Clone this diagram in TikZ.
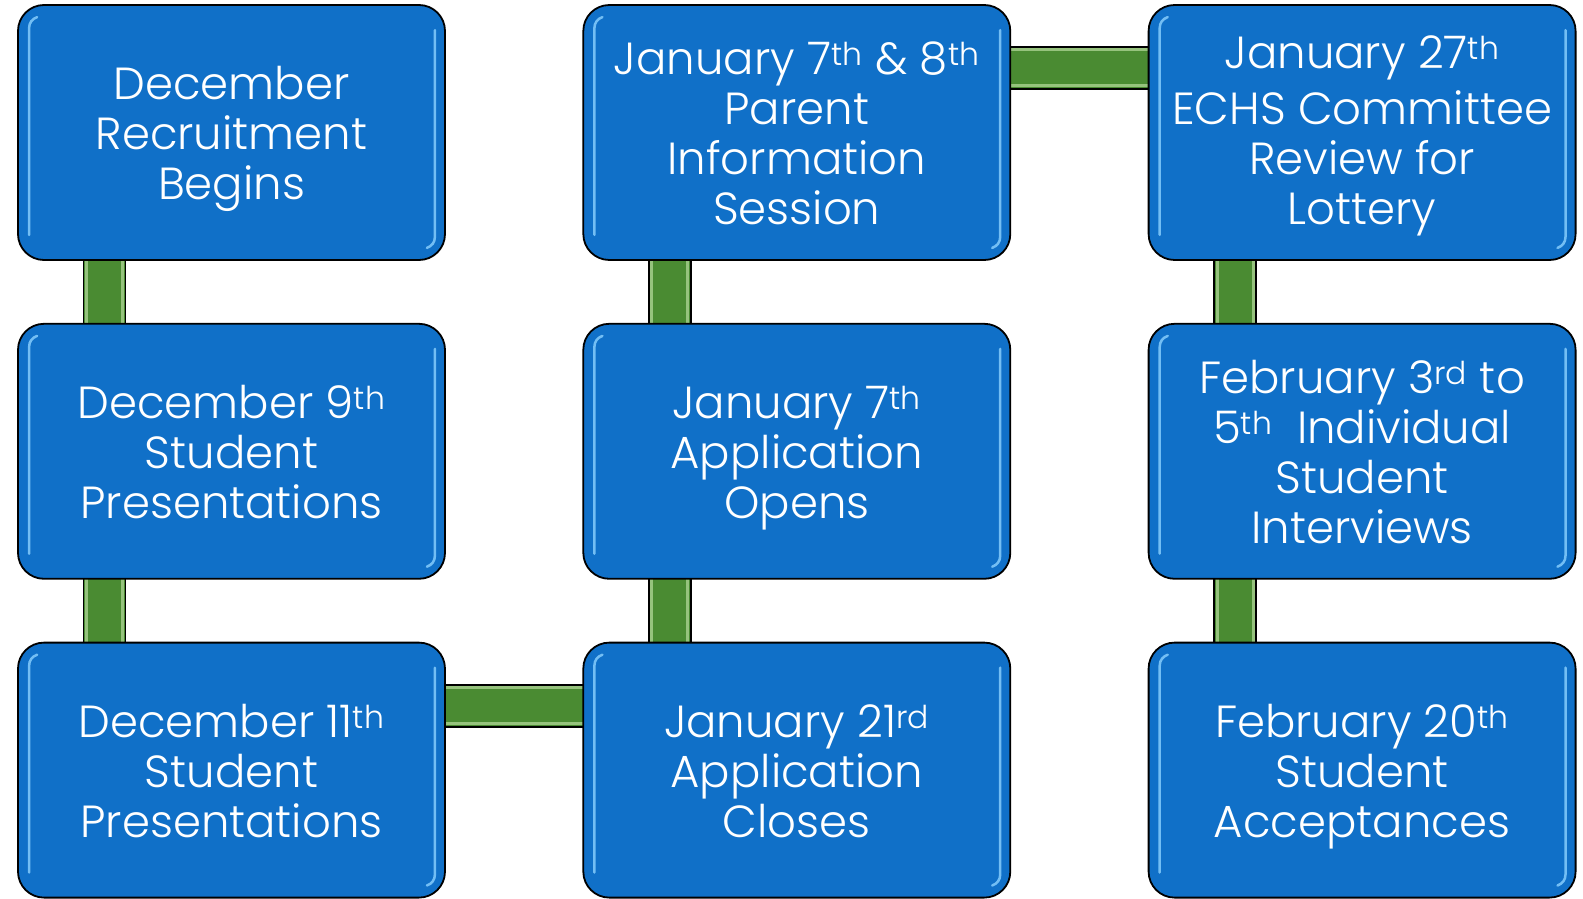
\documentclass[tikz,border=0pt]{standalone}
\usepackage{fontspec}
\setmainfont{Poppins Light}
\usetikzlibrary{positioning, backgrounds}
\definecolor{boxblue}{RGB}{16,112,200}
\definecolor{bargreen}{RGB}{74,139,50}
\definecolor{barlight}{RGB}{150,195,125}
\definecolor{glint}{RGB}{140,210,255}
\newcommand{\topline}{\rule{0pt}{46pt}}

\begin{document}
\begin{tikzpicture}[x=1pt,y=1pt,node distance=62pt and 136.5pt]
  \tikzstyle{event}=[draw=black,line width=1.8pt,fill=boxblue,rounded corners=26pt,
    minimum width=427pt,minimum height=255pt,inner sep=0pt,align=center,
    text=white,font=\fontsize{45}{50}\selectfont,
    execute at end node={\rule[-12pt]{0pt}{12pt}}]
  \tikzstyle{bar}=[draw=black,line width=1.8pt,fill=bargreen]
  \tikzstyle{barshine}=[barlight,line width=3pt]
  \tikzstyle{hilite}=[glint,line width=2.5pt,line cap=round,opacity=0.8]

  \useasboundingbox (0,0) rectangle (1583,-899);

  \node[event]       (rec)      at (231.5,-132.5)  {\topline December\\Recruitment\\Begins};
  \node[event]       (pres9)    [below=of rec]     {\topline December 9\textsuperscript{th}\\Student\\Presentations};
  \node[event]       (pres11)   [below=of pres9]   {\topline December 11\textsuperscript{th}\\Student\\Presentations};
  \node[event]       (info)     [right=of rec]     {\topline January 7\textsuperscript{th} \& 8\textsuperscript{th}\\Parent\\Information\\Session};
  \node[event]       (appopen)  [below=of info]    {\topline January 7\textsuperscript{th}\\Application\\Opens};
  \node[event]       (appclose) [below=of appopen] {\topline January 21\textsuperscript{rd}\\Application\\Closes};
  \node[event]       (review)   [right=of info]    {\topline\raisebox{6pt}{January 27\textsuperscript{th}}\\ECHS Committee\\Review for\\Lottery};
  \node[event]       (interv)   [below=of review]  {\topline February 3\textsuperscript{rd} to\\5\textsuperscript{th}\ \ Individual\\Student\\Interviews};
  \node[event]       (accept)   [below=of interv]  {\topline February 20\textsuperscript{th}\\Student\\Acceptances};

  % green links behind the boxes
  \begin{scope}[on background layer]
    \foreach \a/\b in {rec/pres9, pres9/pres11, info/appopen, appopen/appclose, review/interv, interv/accept}{
      \path[bar] ([xshift=-148,yshift=6]\a.south) rectangle ([xshift=-106,yshift=-6]\b.north);
      \draw[barshine] ([xshift=-145,yshift=6]\a.south) -- ([xshift=-145,yshift=-6]\b.north);
      \draw[barshine] ([xshift=-109,yshift=6]\a.south) -- ([xshift=-109,yshift=-6]\b.north);
    }
    \foreach \a/\b in {pres11/appclose, info/review}{
      \path[bar] ([xshift=-6,yshift=85.5]\a.east) rectangle ([xshift=6,yshift=43.5]\b.west);
      \draw[barshine] ([xshift=-6,yshift=82.5]\a.east) -- ([xshift=6,yshift=82.5]\b.west);
      \draw[barshine] ([xshift=-6,yshift=46.5]\a.east) -- ([xshift=6,yshift=46.5]\b.west);
    }
  \end{scope}

  % glossy edges
  \foreach \n in {rec, pres9, pres11, info, appopen, appclose, review, interv, accept}{
    \draw[hilite] ([xshift=20,yshift=-13]\n.north west) to[out=200,in=90]
      ([xshift=12,yshift=-24]\n.north west) -- ([xshift=12,yshift=26]\n.south west);
    \draw[hilite] ([xshift=-11,yshift=-26]\n.north east) -- ([xshift=-11,yshift=24]\n.south east)
      to[out=-90,in=20] ([xshift=-19,yshift=13]\n.south east);
  }
\end{tikzpicture}
\end{document}
